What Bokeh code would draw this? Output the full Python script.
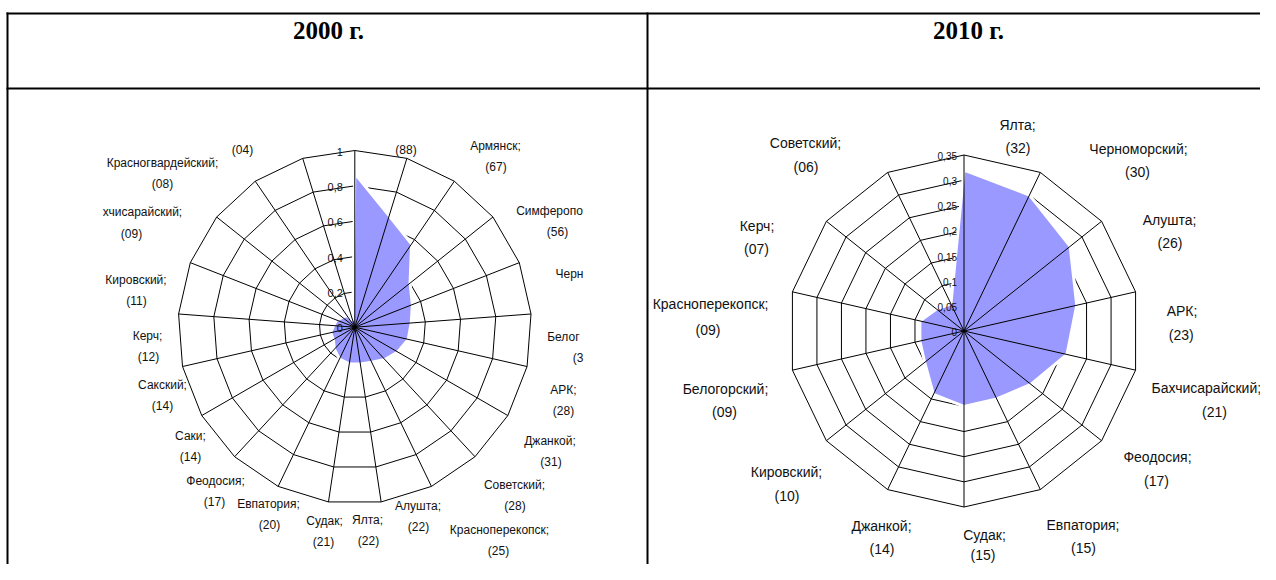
import math
from bokeh.plotting import figure
from bokeh.models import Range1d
from bokeh.embed import file_html
from bokeh.resources import INLINE
from bokeh.core.properties import value

# ---------------- data ----------------
headers = ["2000 г.", "2010 г."]

names_2000 = ["", "Армянск;", "Симферопо", "Черн", "Белог", "АРК;", "Джанкой;", "Советский;",
              "Красноперекопск;", "Алушта;", "Ялта;", "Судак;", "Евпатория;", "Феодосия;",
              "Саки;", "Сакский;", "Керч;", "Кировский;", "хчисарайский;", "Красногвардейский;", ""]
tags_2000 = ["(88)", "(67)", "(56)", "", "(3", "(28)", "(31)", "(28)", "(25)", "(22)", "(22)",
             "(21)", "(20)", "(17)", "(14)", "(14)", "(12)", "(11)", "(09)", "(08)", "(04)"]
values_2000 = [0.87, 0.66, 0.57, 0.40, 0.35, 0.32, 0.31, 0.28, 0.25, 0.22, 0.21,
               0.21, 0.20, 0.17, 0.14, 0.14, 0.12, 0.11, 0.09, 0.08, 0.04]
ticks_2000 = [0, 0.2, 0.4, 0.6, 0.8, 1.0]
tick_labels_2000 = ["0", "0,2", "0,4", "0,6", "0,8", "1"]

names_2010 = ["Ялта;", "Черноморский;", "Алушта;", "АРК;", "Бахчисарайский;", "Феодосия;",
              "Евпатория;", "Судак;", "Джанкой;", "Кировский;", "Белогорский;",
              "Красноперекопск;", "Керч;", "Советский;"]
tags_2010 = ["(32)", "(30)", "(26)", "(23)", "(21)", "(17)", "(15)", "(15)", "(14)", "(10)",
             "(09)", "(09)", "(07)", "(06)"]
values_2010 = [0.32, 0.30, 0.27, 0.23, 0.21, 0.17, 0.15, 0.15, 0.14, 0.10, 0.09, 0.09, 0.07, 0.06]
ticks_2010 = [0, 0.05, 0.1, 0.15, 0.2, 0.25, 0.3, 0.35]
tick_labels_2010 = ["0", "0,05", "0,1", "0,15", "0,2", "0,25", "0,3", "0,35"]

# ---------------- layout (picture pixels) ----------------
W, H = 1260, 564

# label anchors: (name_x, name_align, tag_x, name_y, tag_gap)
lay_2000 = [
    (405.5, "center", 405.5, 128, 21), (495, "center", 495.5, 145, 21),
    (515.7, "left", 557, 210, 21), (555, "left", 0, 273, 21),
    (546.7, "left", 577.5, 336.7, 21), (563, "center", 563, 389, 21),
    (549.5, "center", 550.5, 440, 21), (514, "center", 514.5, 484, 21),
    (499, "center", 498, 529, 21), (417.5, "center", 418, 505, 21),
    (367, "center", 368, 519, 21), (324, "center", 323, 520, 21),
    (268, "center", 269, 503, 21), (215, "center", 214, 480, 21),
    (190, "center", 190, 435, 21), (162, "center", 162, 384, 21),
    (147, "center", 148, 335, 21), (135.5, "center", 136, 279, 21),
    (181.7, "right", 131, 211.7, 22), (162, "center", 162, 162, 21),
    (242, "center", 242, 128, 21),
]
lay_2010 = [
    (1017, "center", 1017.5, 124, 23.6), (1138, "center", 1137, 148.3, 23.6),
    (1169, "center", 1169.5, 219, 23.6), (1181.5, "center", 1180.7, 310.7, 23.6),
    (1151, "left", 1214, 387.7, 23.6), (1157, "center", 1156, 456.7, 23.6),
    (1082.5, "center", 1083, 524.3, 23.6), (984, "center", 982.5, 534, 20.5),
    (881, "center", 881.5, 525, 23.6), (786, "center", 786.5, 471.7, 23.6),
    (725, "center", 724, 388.3, 23.6), (768, "right", 707.5, 303.3, 26),
    (756.5, "center", 756, 225, 23.6), (805, "center", 805.5, 142.7, 23.6),
]

FONT = value("Liberation Sans")
TXT = "#111111"

p = figure(width=W, height=H, x_range=Range1d(0, W), y_range=Range1d(H, 0),
           output_backend="svg", toolbar_location=None, min_border=0,
           x_axis_type=None, y_axis_type=None)
p.grid.visible = False
p.outline_line_color = None
p.background_fill_color = "white"
p.border_fill_color = "white"

# ---------------- table ----------------
p.multi_line(xs=[[6, 1280], [6, 1280], [7, 7], [647, 647]],
             ys=[[13, 13], [88, 88], [12, 600], [12, 600]],
             line_color="black", line_width=2)
p.text(x=[328, 968], y=[30, 30], text=headers, text_font=value("Liberation Serif"),
       text_font_style="bold", text_font_size="25px", text_align="center",
       text_baseline="middle", text_color="black")


def radar(cx, cy, R, vmax, vals, ticks, tlabels, names, tags, lay, fsize, tsize, tdx):
    n = len(vals)
    angs = [2 * math.pi * i / n for i in range(n)]

    def pt(v, a):
        r = R * v / vmax
        return cx + r * math.sin(a), cy - r * math.cos(a)

    # rings
    rx, ry = [], []
    for t in ticks[1:]:
        pts = [pt(t, a) for a in angs] + [pt(t, angs[0])]
        rx.append([q[0] for q in pts])
        ry.append([q[1] for q in pts])
    p.multi_line(rx, ry, line_color="black", line_width=1)
    # data area
    dp = [pt(v, a) for v, a in zip(vals, angs)]
    p.patch([q[0] for q in dp], [q[1] for q in dp], fill_color="#9999FF",
            line_color="white", line_width=3)
    # spokes
    sx = [[cx, pt(ticks[-1], a)[0]] for a in angs]
    sy = [[cy, pt(ticks[-1], a)[1]] for a in angs]
    p.multi_line(sx, sy, line_color="black", line_width=1)
    # value axis labels
    p.text(x=[cx - tdx] * len(ticks), y=[pt(t, 0)[1] + 1 for t in ticks], text=tlabels,
           text_font=FONT, text_font_size=tsize, text_align="right",
           text_baseline="middle", text_color=TXT)
    # category labels
    for name, tag, (nx, al, tx, ny, gap) in zip(names, tags, lay):
        if name:
            p.text(x=[nx], y=[ny], text=[name], text_font=FONT, text_font_size=fsize,
                   text_align=al, text_baseline="middle", text_color=TXT)
        if tag:
            p.text(x=[tx], y=[ny + gap], text=[tag], text_font=FONT, text_font_size=fsize,
                   text_align="center", text_baseline="middle", text_color=TXT)


radar(354.3, 326.7, 176.7, 1.0, values_2000, ticks_2000, tick_labels_2000,
      names_2000, tags_2000, lay_2000, "12px", "11px", 12)
radar(963.5, 330.5, 176.0, 0.35, values_2010, ticks_2010, tick_labels_2010,
      names_2010, tags_2010, lay_2010, "14px", "10px", 7)

open("out.html", "w").write(file_html(p, INLINE))
